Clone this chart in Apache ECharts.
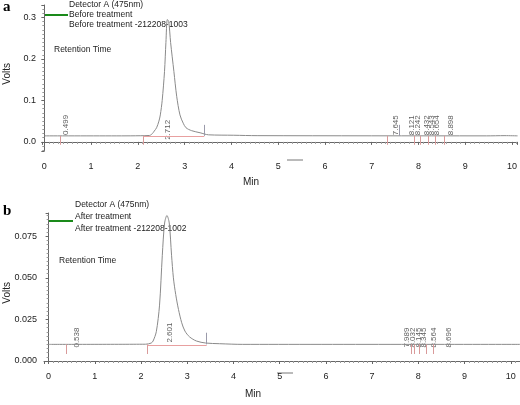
<!DOCTYPE html>
<html>
<head>
<meta charset="utf-8">
<script src="https://cdn.jsdelivr.net/npm/echarts@6/dist/echarts.min.js"></script>
<style>
  html, body { margin: 0; padding: 0; background: #fff; }
  #chart { width: 520px; height: 405px; }
</style>
</head>
<body>
<div id="chart"></div>
<script>
// chromatogram a -- before treatment  [min, volts]
const traceA = [
  [0, 0.0145], [1.65, 0.0145], [2.05, 0.0148], [2.25, 0.0155], [2.31, 0.020], [2.35, 0.026],
  [2.40, 0.034], [2.45, 0.050], [2.48, 0.065], [2.52, 0.100], [2.57, 0.170], [2.60, 0.240],
  [2.63, 0.295], [2.66, 0.290], [2.70, 0.240], [2.77, 0.170], [2.83, 0.110], [2.90, 0.065],
  [2.97, 0.045], [3.03, 0.034], [3.15, 0.027], [3.33, 0.022], [3.51, 0.017], [4.05, 0.016],
  [4.55, 0.015], [9.45, 0.0145], [9.85, 0.0150], [10.12, 0.0145]
];
// chromatogram b -- after treatment
const traceB = [
  [0, 0.0100], [2.1, 0.0101], [2.22, 0.0108], [2.26, 0.0120], [2.33, 0.0176], [2.40, 0.0336],
  [2.46, 0.0636], [2.51, 0.0830], [2.56, 0.0875], [2.61, 0.0830], [2.66, 0.0636], [2.70, 0.0500],
  [2.75, 0.0400], [2.81, 0.0310], [2.88, 0.0230], [2.95, 0.0180], [3.05, 0.0145], [3.20, 0.0120],
  [3.40, 0.0108], [3.70, 0.0104], [4.2, 0.0100], [10.2, 0.0100]
];

// peak labels (text) and where they sit on the trace
const peakTextA = ['0.499', '2.712', '7.645', '8.121', '8.242', '8.432', '8.543', '8.654', '8.898'];
const peakTimeA = [0.45, 2.65, 7.51, 7.86, 7.99, 8.17, 8.28, 8.39, 8.69];
const peakLevelA = [0.041, 0.029, 0.040, 0.040, 0.040, 0.040, 0.040, 0.040, 0.040];
const peakTextB = ['0.538', '2.601', '7.989', '8.032', '8.145', '8.345', '8.564', '8.696'];
const peakTimeB = [0.62, 2.63, 7.75, 7.89, 8.00, 8.12, 8.34, 8.67];
const peakLevelB = [0.0141, 0.0171, 0.0141, 0.0141, 0.0141, 0.0141, 0.0141, 0.0141];

// integration marks: red = peak start/end (down), grey = end of peak (up)
const redMarksA = [0.35, 2.12, 7.33, 7.90, 8.03, 8.21, 8.35, 8.55];
const greyMarksA = [3.42, 7.58];
const redMarksB = [0.38, 2.14, 7.84, 7.91, 8.02, 8.18, 8.33];
const greyMarksB = [3.42];
const baseA = 0.0145, baseB = 0.0100;

const FONT = 'Liberation Sans, Arial, sans-serif';

function marks(times, y1, y2, color) {
  return times.map(t => [{ coord: [t, y1], lineStyle: { color: color } }, { coord: [t, y2] }]);
}

function labelSeries(idx, times, levels, texts) {
  return {
    type: 'scatter', xAxisIndex: idx, yAxisIndex: idx, symbolSize: 0, silent: true,
    data: times.map((t, i) => [t, levels[i], texts[i]]),
    label: {
      show: true, position: 'inside', rotate: 90, fontSize: 8, color: '#333', fontFamily: FONT,
      formatter: p => p.data[2]
    }
  };
}

function xAxisOf(idx, min, max) {
  return {
    type: 'value', gridIndex: idx, min: min, max: max, splitNumber: 10,
    splitLine: { show: false },
    axisLine: { lineStyle: { color: '#666', width: 1 } },
    axisTick: { length: 3, lineStyle: { color: '#666' } },
    minorTick: { show: true, splitNumber: 10, length: 2, lineStyle: { color: '#999' } },
    axisLabel: { showMinLabel: false, showMaxLabel: false, fontSize: 9, color: '#222', fontFamily: FONT, margin: 11 }
  };
}

const chart = echarts.init(document.getElementById('chart'), null, { renderer: 'canvas' });

chart.setOption({
  animation: false,
  grid: [
    { left: 42, top: 5, width: 478, height: 146 },
    { left: 44, top: 213, width: 476, height: 148 }
  ],
  xAxis: [xAxisOf(0, -0.05, 10.12), xAxisOf(1, -0.1, 10.2)],
  yAxis: [
    {
      type: 'value', gridIndex: 0, min: -0.022, max: 0.33, splitNumber: 4,
      splitLine: { show: false },
      axisLine: { show: true, lineStyle: { color: '#666' } },
      axisTick: { show: true, length: 3, lineStyle: { color: '#666' } },
      minorTick: { show: true, splitNumber: 10, length: 2, lineStyle: { color: '#999' } },
      axisLabel: { showMinLabel: false, showMaxLabel: false, fontSize: 9, color: '#222', fontFamily: FONT,
        margin: 6, formatter: v => v.toFixed(1) }
    },
    {
      type: 'value', gridIndex: 1, min: 0, max: 0.089, interval: 0.025,
      splitLine: { show: false },
      axisLine: { show: true, lineStyle: { color: '#666' } },
      axisTick: { show: true, length: 3, lineStyle: { color: '#666' } },
      minorTick: { show: true, splitNumber: 10, length: 2, lineStyle: { color: '#999' } },
      axisLabel: { showMaxLabel: false, fontSize: 9, color: '#222', fontFamily: FONT,
        margin: 7, formatter: v => v.toFixed(3) }
    }
  ],
  series: [
    {
      type: 'line', xAxisIndex: 0, yAxisIndex: 0, data: traceA, showSymbol: false, smooth: 0.3,
      lineStyle: { color: '#8a8a8a', width: 1 },
      markLine: {
        silent: true, symbol: 'none', label: { show: false },
        lineStyle: { type: 'solid', width: 1 },
        data: [
          ...marks(redMarksA, baseA, -0.007, '#d99a9a'),
          ...marks(greyMarksA, baseA, 0.041, '#9a9aaa'),
          [{ coord: [2.12, 0.0138], lineStyle: { color: '#e8a0a0' } }, { coord: [3.42, 0.0138] }]
        ]
      }
    },
    {
      type: 'line', xAxisIndex: 1, yAxisIndex: 1, data: traceB, showSymbol: false, smooth: 0.3,
      lineStyle: { color: '#8a8a8a', width: 1 },
      markLine: {
        silent: true, symbol: 'none', label: { show: false },
        lineStyle: { type: 'solid', width: 1 },
        data: [
          ...marks(redMarksB, baseB, 0.0042, '#d99a9a'),
          ...marks(greyMarksB, baseB, 0.017, '#9a9aaa'),
          [{ coord: [2.14, 0.0097], lineStyle: { color: '#e8a0a0' } }, { coord: [3.42, 0.0097] }]
        ]
      }
    },
    labelSeries(0, peakTimeA, peakLevelA, peakTextA),
    labelSeries(1, peakTimeB, peakLevelB, peakTextB)
  ],
  graphic: [
    // panel letters
    { type: 'text', left: 3, top: 0, style: { text: 'a', font: 'bold 15px Liberation Serif, Times New Roman, serif', fill: '#000' } },
    { type: 'text', left: 3, top: 204, style: { text: 'b', font: 'bold 15px Liberation Serif, Times New Roman, serif', fill: '#000' } },
    // axis names
    { type: 'text', left: 2, top: 63, rotation: Math.PI / 2, style: { text: 'Volts', font: '10px ' + FONT, fill: '#222' } },
    { type: 'text', left: 2, top: 282, rotation: Math.PI / 2, style: { text: 'Volts', font: '10px ' + FONT, fill: '#222' } },
    { type: 'text', left: 243, top: 177, style: { text: 'Min', font: '10px ' + FONT, fill: '#222' } },
    { type: 'text', left: 245, top: 389, style: { text: 'Min', font: '10px ' + FONT, fill: '#222' } },
    // legend a
    { type: 'line', shape: { x1: 44, y1: 15, x2: 68, y2: 15 }, style: { stroke: '#1a8a1a', lineWidth: 2 } },
    { type: 'text', left: 69, top: 0, style: { text: 'Detector A (475nm)\nBefore treatment\nBefore treatment -212208-1003', font: '8.5px ' + FONT, fill: '#222', lineHeight: 10 } },
    { type: 'text', left: 54, top: 45, style: { text: 'Retention Time', font: '8.5px ' + FONT, fill: '#222' } },
    // legend b
    { type: 'line', shape: { x1: 48, y1: 221, x2: 73, y2: 221 }, style: { stroke: '#1a8a1a', lineWidth: 2 } },
    { type: 'text', left: 75, top: 199, style: { text: 'Detector A (475nm)\nAfter treatment\nAfter treatment -212208-1002', font: '8.5px ' + FONT, fill: '#222', lineHeight: 12 } },
    { type: 'text', left: 59, top: 256, style: { text: 'Retention Time', font: '8.5px ' + FONT, fill: '#222' } },
    // stray dashes under the x axes
    { type: 'line', shape: { x1: 287, y1: 160, x2: 303, y2: 160 }, style: { stroke: '#777', lineWidth: 1 } },
    { type: 'line', shape: { x1: 277, y1: 373, x2: 293, y2: 373 }, style: { stroke: '#777', lineWidth: 1 } }
  ]
});
</script>
</body>
</html>
